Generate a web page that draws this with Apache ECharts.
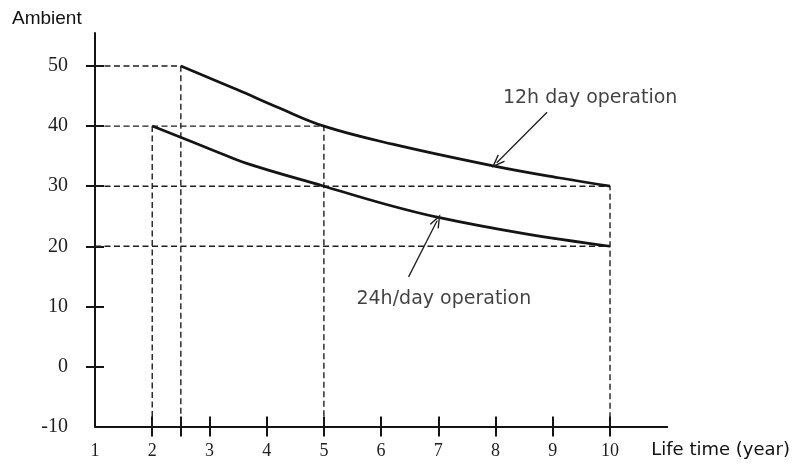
<!DOCTYPE html>
<html>
<head>
<meta charset="utf-8">
<script src="https://cdn.jsdelivr.net/npm/echarts@6/dist/echarts.min.js"></script>
<style>
  html, body { margin: 0; padding: 0; background: #ffffff; }
  #chart { width: 793px; height: 470px; }
</style>
</head>
<body>
<div id="chart"></div>
<script>
// Axis tick labels and tick positions
const xLabels = [1, 2, 3, 4, 5, 6, 7, 8, 9, 10];
const xTicks = [2, 2.5, 3, 4, 5, 6, 7, 8, 9, 10];
const yLabels = [-10, 0, 10, 20, 30, 40, 50];
const yTicks = [0, 10, 20, 30, 40, 50];

// Life time (years) vs ambient temperature, 12 h per day
const years12h = [2.5, 3.5, 4.2, 5, 6.2, 8, 9.1, 10];
const ambient12h = [50, 46.0, 43.1, 40, 37.0, 33.3, 31.4, 30];

// Life time (years) vs ambient temperature, 24 h per day
const years24h = [2, 3.06, 3.65, 5, 6, 7, 8.5, 10];
const ambient24h = [40, 36.0, 33.8, 30, 27.2, 24.8, 22.1, 20];

// Dashed read-off guides: each is a polyline [year, ambient]
const guides = [
  [[1, 50], [2.5, 50], [2.5, -10]],
  [[1, 40], [5, 40], [5, -10]],
  [[2, 40], [2, -10]],
  [[1, 30], [10, 30], [10, -10]],
  [[1, 20], [10, 20]]
];

// Callout texts with their anchor and pointer arrows
const calloutText = ['12h day operation', '24h/day operation'];
const calloutPos = [[8.12, 44.6], [5.56, 11.2]];
const arrowTail = [[8.9, 42.3], [6.48, 14.9]];
const arrowTip = [[8.02, 33.9], [6.98, 24.3]];

const ink = '#141414';
const serif = '"Liberation Serif", "Times New Roman", serif';
const sans = '"DejaVu Sans", sans-serif';

const chevron = 'path://M5,0L10,11L8.9,11.7L5,3.3L1.1,11.7L0,11Z';

function zip(xs, ys) { return xs.map((x, i) => [x, ys[i]]); }

const chart = echarts.init(document.getElementById('chart'), null, { renderer: 'canvas' });

const baseX = { type: 'value', min: 1, max: 11, position: 'bottom', splitLine: { show: false } };
const baseY = { type: 'value', min: -10, max: 55.5, position: 'left', splitLine: { show: false } };

const series = [];

guides.forEach((g) => {
  series.push({
    type: 'line',
    data: g,
    symbol: 'none',
    silent: true,
    lineStyle: { color: '#1e1e1e', width: 1.4, type: [6, 3.5] },
    z: 1
  });
});

function curve(xs, ys, idx) {
  return {
    type: 'line',
    data: zip(xs, ys),
    symbol: 'none',
    smooth: 0.4,
    lineStyle: { color: ink, width: 2.7 },
    z: 3,
    markLine: {
      silent: true,
      symbol: ['none', chevron],
      symbolSize: [10, 14],
      label: { show: false },
      lineStyle: { color: '#1e1e1e', width: 1.3, type: 'solid' },
      data: [[
        { coord: arrowTail[idx] },
        { coord: arrowTip[idx] }
      ]]
    }
  };
}

series.push(curve(years12h, ambient12h, 0));
series.push(curve(years24h, ambient24h, 1));

series.push({
  type: 'scatter',
  data: calloutPos.map((p, i) => [p[0], p[1], calloutText[i]]),
  symbolSize: 1,
  itemStyle: { color: 'rgba(0,0,0,0)' },
  silent: true,
  label: {
    show: true,
    position: 'right',
    distance: 0,
    formatter: (p) => p.value[2],
    fontFamily: sans,
    fontSize: 19,
    color: '#111111'
  }
});

chart.setOption({
  animation: false,
  backgroundColor: '#ffffff',
  title: {
    text: 'Ambient',
    left: 7,
    top: 4,
    textStyle: { fontFamily: '"Liberation Sans", Arial, sans-serif', fontSize: 19, fontWeight: 'normal', color: '#111111' }
  },
  grid: { left: 95, right: 121, top: 33, bottom: 43.5 },
  xAxis: [
    Object.assign({}, baseX, {
      axisLine: { onZero: false, lineStyle: { color: ink, width: 2 } },
      axisTick: { customValues: xTicks, length: 10, lineStyle: { color: ink, width: 2 } },
      axisLabel: { customValues: xLabels, margin: 16, fontFamily: serif, fontSize: 18, color: '#1e1e1e' },
      name: 'Life time (year)',
      nameLocation: 'end',
      nameGap: -16,
      nameTextStyle: {
        fontFamily: sans, fontSize: 18, color: '#111111',
        align: 'left', verticalAlign: 'top', padding: [15, 0, 0, 0]
      }
    }),
    Object.assign({}, baseX, {
      axisLine: { show: false, onZero: false },
      axisTick: { inside: true, customValues: xTicks, length: 10, lineStyle: { color: ink, width: 2 } },
      axisLabel: { show: false }
    })
  ],
  yAxis: [
    Object.assign({}, baseY, {
      axisLine: { onZero: false, lineStyle: { color: ink, width: 2 } },
      axisTick: { customValues: yTicks, length: 9, lineStyle: { color: ink, width: 2 } },
      axisLabel: { customValues: yLabels, margin: 27, fontFamily: serif, fontSize: 20, color: '#1e1e1e' }
    }),
    Object.assign({}, baseY, {
      axisLine: { show: false, onZero: false },
      axisTick: { inside: true, customValues: yTicks, length: 9, lineStyle: { color: ink, width: 2 } },
      axisLabel: { show: false }
    })
  ],
  series: series
});
</script>
</body>
</html>
